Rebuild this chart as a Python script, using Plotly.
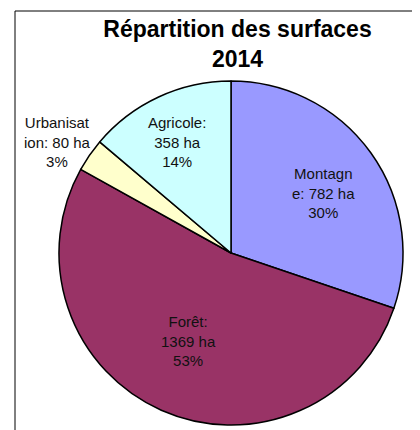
import math
import plotly.graph_objects as go

# ---- data ----
categories = ["Montagne", "Forêt", "Urbanisation", "Agricole"]
values_ha = [782, 1369, 80, 358]
# label text as wrapped in the original chart
label_text = [
    "Montagn<br>e: 782 ha<br>30%",
    "Forêt:<br>1369 ha<br>53%",
    "Urbanisat<br>ion: 80 ha<br>3%",
    "Agricole:<br>358 ha<br>14%",
]
title_text = "Répartition des surfaces<br>2014"

# ---- style ----
colors = ["#9999FF", "#993366", "#FFFFCC", "#CCFFFF"]
label_radius = [0.64, 0.57, 1.198, 0.72]   # fraction of pie radius
label_angle_shift = [2.5, 2.0, -2.0, -1.0]  # degrees
W, H = 420, 430
OFF = 8  # page body margin
cx, cy, R = 231 - OFF, 253 - OFF, 172
font = "Liberation Sans, Arial, sans-serif"

fig = go.Figure(go.Pie(
    labels=categories,
    values=values_ha,
    sort=False,
    direction="clockwise",
    rotation=0,
    marker=dict(colors=colors, line=dict(color="black", width=1.5)),
    textinfo="none",
    hoverinfo="label+value+percent",
    domain=dict(x=[(cx - R) / W, (cx + R) / W],
                y=[1 - (cy + R) / H, 1 - (cy - R) / H]),
    showlegend=False,
))

# labels placed near the mid-angle of each slice
total = sum(values_ha)
cum = 0
annotations = []
for v, txt, rf, sh in zip(values_ha, label_text, label_radius, label_angle_shift):
    mid = (cum + v / 2) / total * 2 * math.pi + math.radians(sh)
    cum += v
    px = cx + rf * R * math.sin(mid)
    py = cy - rf * R * math.cos(mid)
    annotations.append(dict(
        x=px / W, y=1 - py / H, xref="paper", yref="paper",
        text=txt, showarrow=False, xanchor="center", yanchor="middle",
        font=dict(family=font, size=15, color="#111111"), align="center",
    ))

fx, fy = 15 - OFF, 11 - OFF
shapes = [
    dict(type="line", xref="paper", yref="paper",
         x0=fx / W, y0=1 - fy / H, x1=1.1, y1=1 - fy / H,
         line=dict(color="black", width=1)),
    dict(type="line", xref="paper", yref="paper",
         x0=fx / W, y0=1 - fy / H, x1=fx / W, y1=-0.1,
         line=dict(color="black", width=1)),
]

fig.update_layout(
    width=W, height=H,
    margin=dict(l=0, r=0, t=0, b=0),
    paper_bgcolor="white", plot_bgcolor="white",
    title=dict(text="<b>" + title_text + "</b>", x=(237.5 - OFF) / W,
               xanchor="center", y=1 - 29 / H, yanchor="top",
               font=dict(family=font, size=23, color="black")),
    annotations=annotations,
    shapes=shapes,
)

fig.write_html("out.html")
